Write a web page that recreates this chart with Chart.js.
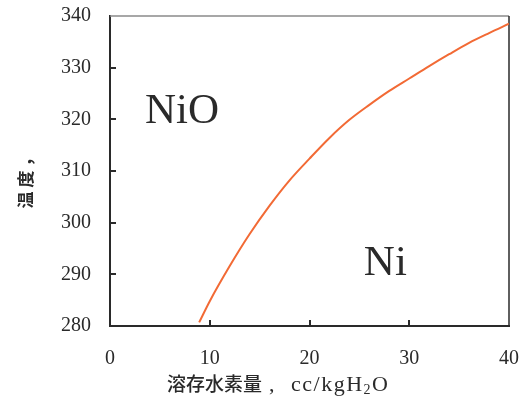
<!DOCTYPE html>
<html>
<head>
<meta charset="utf-8">
<script src="https://cdn.jsdelivr.net/npm/chart.js@4/dist/chart.umd.min.js"></script>
<style>
  html, body { margin: 0; padding: 0; background: #fff; }
  canvas { display: block; }
</style>
</head>
<body>
<canvas id="c" width="526" height="400"></canvas>
<script>
// ---- data ----
const hydrogen = [8.94, 10, 12, 14, 16, 18, 20, 22, 24, 26, 28, 30, 32, 34, 36, 38, 40];
const temperature = [280.7, 284.8, 291.6, 297.8, 303.3, 308.2, 312.4, 316.4, 319.9, 322.8, 325.5, 327.9, 330.3, 332.6, 334.8, 336.7, 338.5];
const xTickValues = [0, 10, 20, 30, 40];
const yTickValues = [280, 290, 300, 310, 320, 330, 340];
const regionNames = ['NiO', 'Ni'];
const regionX = [3.5, 25.45];
const regionY = [319.2, 289.8];
const yTitle = '温度，';
const xTitleCJK = '溶存水素量';
const xTitleComma = ',';
const xTitleUnit = 'cc/kgH';
const xTitleSub = '2';
const xTitleEnd = 'O';

const points = hydrogen.map((h, i) => ({ x: h, y: temperature[i] }));

const SERIF = '"Liberation Serif", "DejaVu Serif", serif';
const CJK = '"Noto Sans CJK JP", "Noto Sans CJK SC", sans-serif';
const INK = '#2a2a2a';

function setSpacing(ctx, v) { try { ctx.letterSpacing = v; } catch (e) {} }

const decorPlugin = {
  id: 'decor',
  beforeDatasetsDraw(chart) {
    const ctx = chart.ctx;
    const a = chart.chartArea;
    const xs = chart.scales.x, ys = chart.scales.y;
    ctx.save();
    // top & right frame
    ctx.lineWidth = 1.5;
    ctx.strokeStyle = '#8a8a8a';
    ctx.beginPath();
    ctx.moveTo(a.left, a.top); ctx.lineTo(a.right, a.top);
    ctx.stroke();
    ctx.strokeStyle = '#2a2a2a';
    ctx.beginPath();
    ctx.moveTo(a.right, a.top); ctx.lineTo(a.right, a.bottom);
    ctx.stroke();
    // inward ticks
    ctx.lineWidth = 2;
    ctx.strokeStyle = '#2a2a2a';
    xTickValues.forEach(v => {
      if (v === xs.min || v === xs.max) return;
      const px = Math.round(xs.getPixelForValue(v));
      ctx.beginPath();
      ctx.moveTo(px, a.bottom); ctx.lineTo(px, a.bottom - 6);
      ctx.stroke();
    });
    yTickValues.forEach(v => {
      if (v === ys.max) return;
      const py = Math.round(ys.getPixelForValue(v));
      ctx.beginPath();
      ctx.moveTo(a.left, py); ctx.lineTo(a.left + 6, py);
      ctx.stroke();
    });
    ctx.restore();
  },
  afterDraw(chart) {
    const ctx = chart.ctx;
    const xs = chart.scales.x, ys = chart.scales.y;
    ctx.save();
    ctx.fillStyle = INK;
    // region labels
    ctx.font = '43px ' + SERIF;
    ctx.textAlign = 'left';
    ctx.textBaseline = 'alphabetic';
    regionNames.forEach((n, i) => {
      ctx.fillText(n, xs.getPixelForValue(regionX[i]), ys.getPixelForValue(regionY[i]));
    });
    // y title
    ctx.save();
    ctx.translate(26, 177);
    ctx.rotate(-Math.PI / 2);
    ctx.font = 'bold 17px ' + CJK;
    setSpacing(ctx, '4px');
    ctx.textAlign = 'center';
    ctx.textBaseline = 'middle';
    ctx.fillText(yTitle, 0, 0);
    ctx.restore();
    // x title (mixed fonts with subscript)
    let x = 167;
    const base = 391;
    ctx.textAlign = 'left';
    ctx.textBaseline = 'alphabetic';
    ctx.font = '500 19px ' + CJK;
    ctx.fillText(xTitleCJK, x, base);
    const cjkEnd = x + ctx.measureText(xTitleCJK).width;
    ctx.font = '22px ' + SERIF;
    ctx.fillText(xTitleComma, cjkEnd + 7, base);
    x = cjkEnd + 29;
    setSpacing(ctx, '1.5px');
    ctx.fillText(xTitleUnit, x, base);
    x += ctx.measureText(xTitleUnit).width;
    ctx.font = '14px ' + SERIF;
    ctx.fillText(xTitleSub, x, base + 3);
    x += ctx.measureText(xTitleSub).width;
    ctx.font = '22px ' + SERIF;
    ctx.fillText(xTitleEnd, x, base);
    ctx.restore();
  }
};

new Chart(document.getElementById('c'), {
  type: 'scatter',
  data: {
    datasets: [{
      data: points,
      showLine: true,
      borderColor: '#F26A35',
      borderWidth: 2,
      pointRadius: 0,
      cubicInterpolationMode: 'monotone',
      fill: false
    }]
  },
  options: {
    responsive: false,
    animation: false,
    events: [],
    layout: { padding: { top: 16, right: 17, left: 0, bottom: 0 } },
    plugins: { legend: { display: false }, tooltip: { enabled: false } },
    scales: {
      x: {
        type: 'linear',
        min: xTickValues[0],
        max: xTickValues[xTickValues.length - 1],
        afterBuildTicks: s => { s.ticks = xTickValues.map(v => ({ value: v })); },
        afterFit: s => { s.height = 74; s.paddingLeft = 0; s.paddingRight = 0; },
        grid: { display: true, drawOnChartArea: false, drawTicks: false },
        border: { display: true, color: '#2a2a2a', width: 2 },
        ticks: { padding: 21, color: INK, font: { family: SERIF, size: 20 }, maxRotation: 0 }
      },
      y: {
        type: 'linear',
        min: yTickValues[0],
        max: yTickValues[yTickValues.length - 1],
        afterBuildTicks: s => { s.ticks = yTickValues.map(v => ({ value: v })); },
        afterFit: s => { s.width = 110; s.paddingTop = 0; s.paddingBottom = 0; },
        grid: { display: true, drawOnChartArea: false, drawTicks: false },
        border: { display: true, color: '#2a2a2a', width: 2 },
        ticks: { padding: 19, color: INK, font: { family: SERIF, size: 20 } }
      }
    }
  },
  plugins: [decorPlugin]
});
</script>
</body>
</html>
